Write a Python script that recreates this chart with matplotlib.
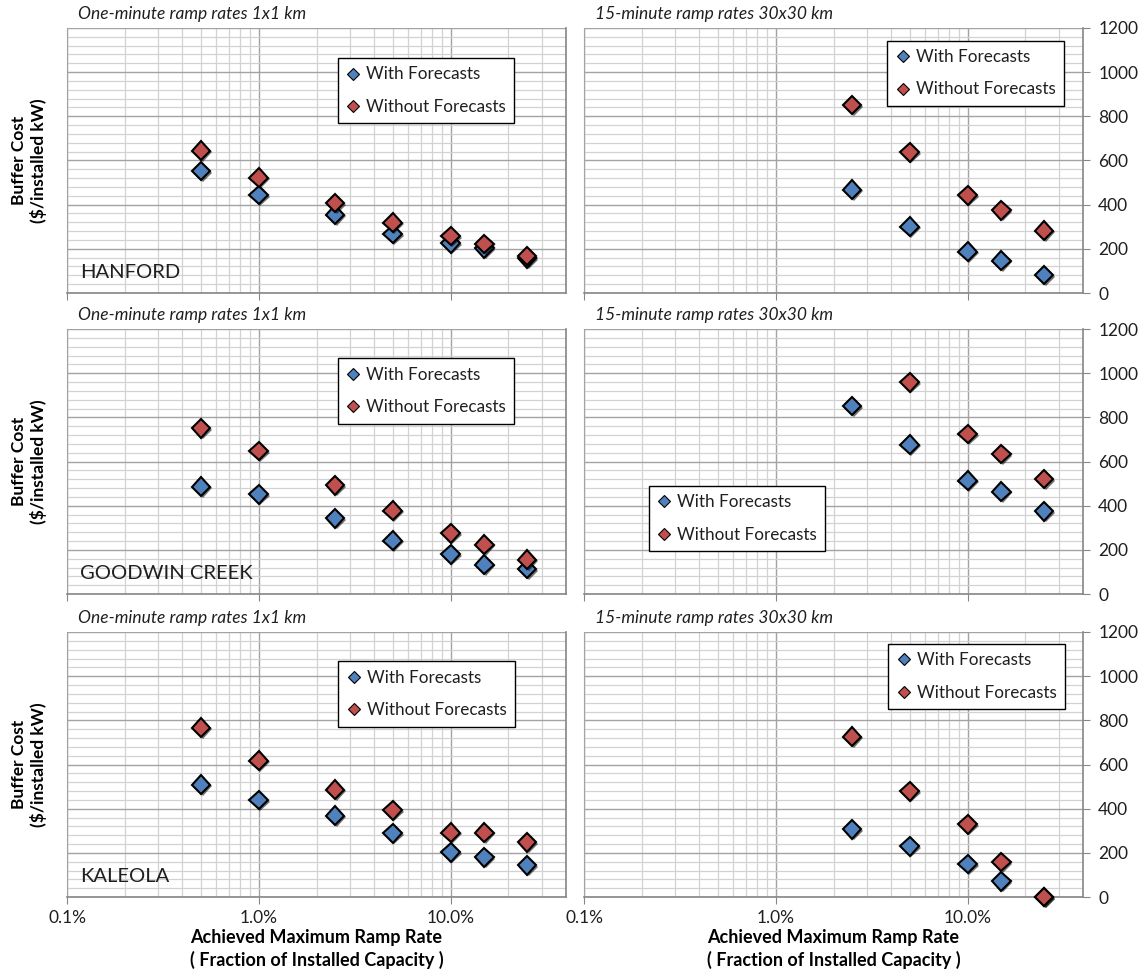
import numpy as np
import matplotlib
matplotlib.use("Agg")
import matplotlib.pyplot as plt
import matplotlib.patheffects as pe
from matplotlib.lines import Line2D
from matplotlib.ticker import LogLocator, MultipleLocator, FuncFormatter, NullFormatter

plt.rcParams['font.family'] = ['Lato', 'DejaVu Sans']

# ramp rate limits, fraction of installed capacity
x_one_min = [0.005, 0.01, 0.025, 0.05, 0.10, 0.15, 0.25]
x_fifteen_min = [0.025, 0.05, 0.10, 0.15, 0.25]

# buffer cost in $/installed kW
hanford_1min_with = [552, 444, 354, 267, 225, 202, 157]
hanford_1min_without = [644, 523, 407, 319, 258, 222, 168]
hanford_15min_with = [468, 300, 187, 146, 82]
hanford_15min_without = [851, 637, 442, 374, 282]

goodwin_1min_with = [486, 452, 342, 241, 179, 133, 113]
goodwin_1min_without = [750, 647, 492, 378, 274, 224, 156]
goodwin_15min_with = [851, 676, 513, 464, 375]
goodwin_15min_without = [np.nan, 958, 725, 634, 521]

kaleola_1min_with = [508, 439, 368, 289, 203, 180, 144]
kaleola_1min_without = [767, 617, 486, 392, 291, 291, 247]
kaleola_15min_with = [306, 230, 150, 71, 0]
kaleola_15min_without = [726, 479, 329, 158, 0]

stations = ['HANFORD', 'GOODWIN CREEK', 'KALEOLA']
series_names = ['With Forecasts', 'Without Forecasts']
left_title = 'One-minute ramp rates 1x1 km'
right_title = '15-minute ramp rates 30x30 km'

BLUE = '#4f81bd'
RED = '#c0504d'
AXIS_GRAY = '#868686'
TEXT = '#1f1f1f'

W, H = 1141, 972
fig = plt.figure(figsize=(W / 100, H / 100), dpi=100)

# panel boxes in pixels
col_x = [(67, 566), (584, 1083)]
row_y = [(28, 293), (329, 594), (632, 897)]

# legend upper-left corners in axes fraction, one per panel
legend_pos = {
    (0, 0): (0.543, 0.887), (0, 1): (0.608, 0.952),
    (1, 0): (0.543, 0.889), (1, 1): (0.130, 0.408),
    (2, 0): (0.544, 0.889), (2, 1): (0.610, 0.955),
}

shadow = [pe.SimplePatchShadow(offset=(1.2, -1.2), shadow_rgbFace='black', alpha=0.55), pe.Normal()]


def make_axes(row, col):
    x0, x1 = col_x[col]
    y0, y1 = row_y[row]
    return fig.add_axes([x0 / W, 1 - y1 / H, (x1 - x0) / W, (y1 - y0) / H])


def draw_panel(ax, row, col, xs, with_fc, without_fc):
    ax.set_xscale('log')
    ax.set_xlim(0.001, 0.4)
    ax.set_ylim(0, 1200)

    ax.xaxis.set_major_locator(LogLocator(base=10, numticks=10))
    ax.xaxis.set_minor_locator(LogLocator(base=10, subs=np.arange(2, 10), numticks=20))
    ax.xaxis.set_minor_formatter(NullFormatter())
    ax.yaxis.set_major_locator(MultipleLocator(200))
    ax.yaxis.set_minor_locator(MultipleLocator(40))

    ax.grid(which='minor', color='#d2d2d2', lw=0.9)
    ax.grid(which='major', color='#a3a3a3', lw=1.0)
    ax.set_axisbelow(True)

    ax.tick_params(which='minor', length=0)
    ax.tick_params(axis='x', which='major', direction='out', length=5,
                   color=AXIS_GRAY, labelsize=12.5, labelcolor=TEXT, pad=4)

    if row == 2:
        ax.xaxis.set_major_formatter(FuncFormatter(lambda v, p: f'{v * 100:.1f}%'))
    else:
        ax.xaxis.set_major_formatter(NullFormatter())

    if col == 1:
        ax.yaxis.tick_right()
        ax.tick_params(axis='y', which='major', direction='out', length=5,
                       color=AXIS_GRAY, labelsize=12.5, labelcolor=TEXT, pad=6)
    else:
        ax.tick_params(axis='y', which='major', length=0, labelleft=False)

    ax.spines['top'].set_visible(False)
    ax.spines['left'].set_color('#a3a3a3')
    for side in ('bottom', 'right'):
        ax.spines[side].set_color(AXIS_GRAY)
        ax.spines[side].set_linewidth(1.2)

    ax.plot(xs, with_fc, ls='none', marker='D', ms=9.5, mfc=BLUE, mec='black',
            mew=1.5, clip_on=False, zorder=3, path_effects=shadow)
    ax.plot(xs, without_fc, ls='none', marker='D', ms=9.5, mfc=RED, mec='black',
            mew=1.5, clip_on=False, zorder=4, path_effects=shadow)

    handles = [Line2D([], [], ls='none', marker='D', ms=6.5, mfc=c, mec='black', mew=0.8)
               for c in (BLUE, RED)]
    leg = ax.legend(handles, series_names, loc='upper left',
                    bbox_to_anchor=legend_pos[(row, col)], fontsize=12.3,
                    frameon=True, fancybox=False, framealpha=1, edgecolor='black',
                    borderpad=0.5, labelspacing=0.95, handlelength=0.8,
                    handletextpad=0.35, borderaxespad=0)
    leg.get_frame().set_linewidth(1.0)
    leg.set_zorder(6)
    for t in leg.get_texts():
        t.set_color(TEXT)

    title = left_title if col == 0 else right_title
    ax.annotate(title, xy=(0, 1), xycoords='axes fraction', xytext=(8, 4),
                textcoords='offset points', ha='left', va='bottom',
                fontsize=12.5, style='italic', color=TEXT)


panel_data = [
    (hanford_1min_with, hanford_1min_without, hanford_15min_with, hanford_15min_without),
    (goodwin_1min_with, goodwin_1min_without, goodwin_15min_with, goodwin_15min_without),
    (kaleola_1min_with, kaleola_1min_without, kaleola_15min_with, kaleola_15min_without),
]

for row, (w1, wo1, w15, wo15) in enumerate(panel_data):
    ax_l = make_axes(row, 0)
    draw_panel(ax_l, row, 0, x_one_min, w1, wo1)
    ax_l.text(0.026, 0.076, stations[row], transform=ax_l.transAxes,
              ha='left', va='center', fontsize=14.5, color=TEXT)

    ax_r = make_axes(row, 1)
    draw_panel(ax_r, row, 1, x_fifteen_min, w15, wo15)

    y0, y1 = row_y[row]
    fig.text(29 / W, 1 - (y0 + y1) / 2 / H, 'Buffer Cost\n($/installed kW)',
             rotation=90, ha='center', va='center', multialignment='center',
             fontsize=12.5, fontweight='bold', linespacing=1.2, color='black')

# x axis titles under the bottom row
for x0, x1 in col_x:
    fig.text((x0 + x1) / 2 / W, 1 - 949 / H,
             'Achieved Maximum Ramp Rate\n( Fraction of Installed Capacity )',
             ha='center', va='center', multialignment='center',
             fontsize=13, fontweight='bold', linespacing=1.3, color='black')

fig.savefig('out.png', dpi=100)
